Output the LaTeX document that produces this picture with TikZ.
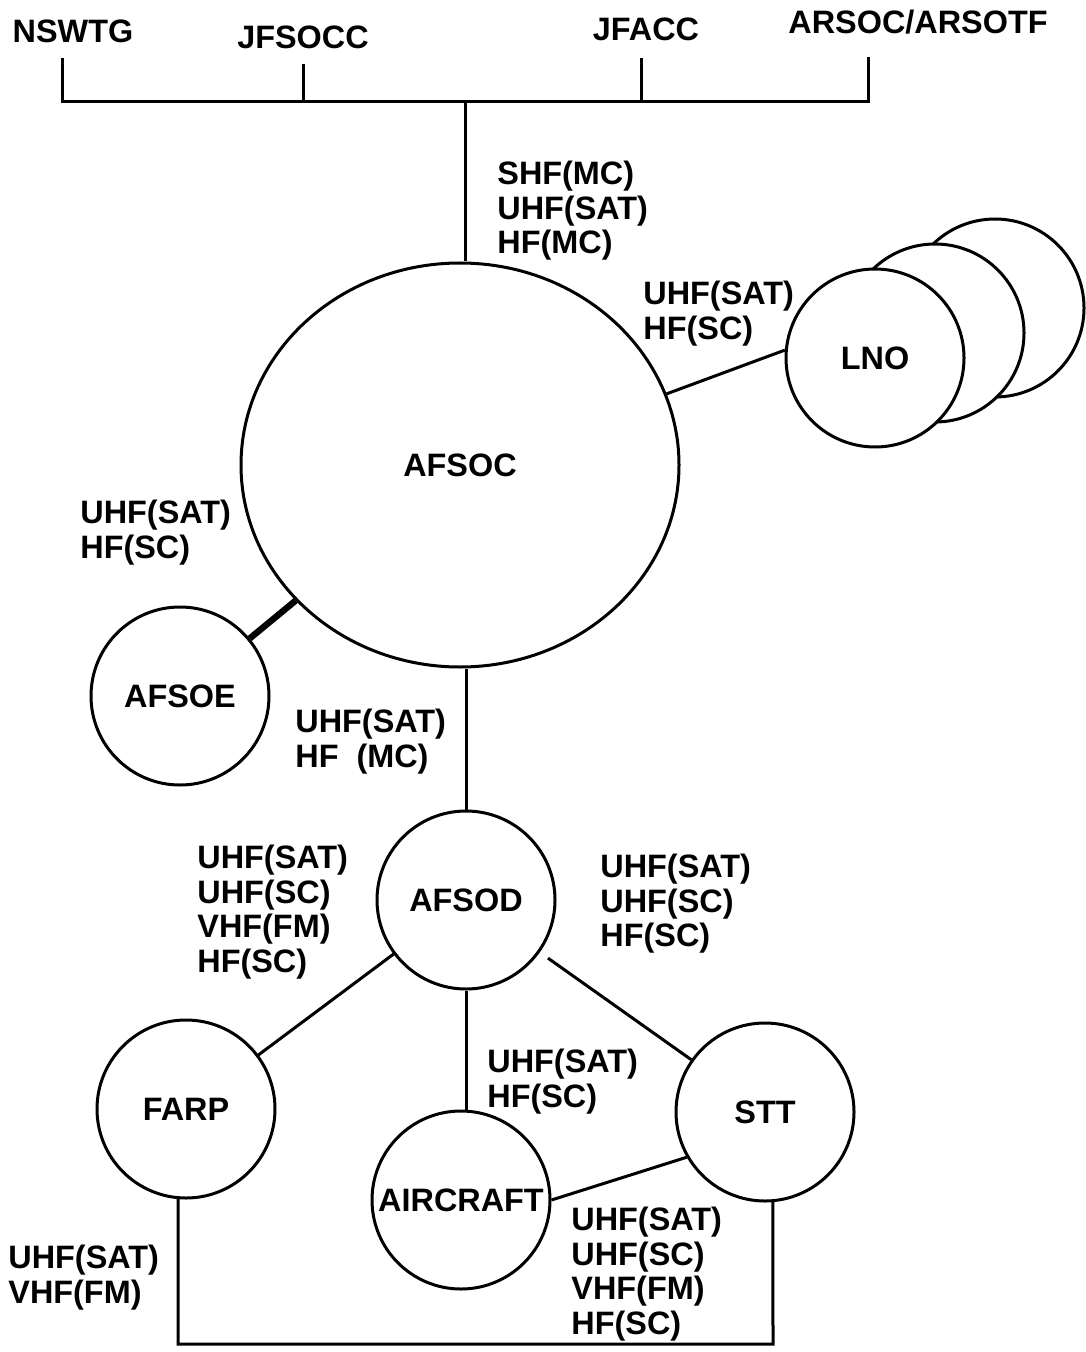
\documentclass[tikz,border=0pt]{standalone}
\usepackage{fontspec}
\setmainfont{Liberation Sans}
\usetikzlibrary{shapes.geometric}

\begin{document}
\begin{tikzpicture}[
        x=0.5pt, y=-0.5pt,
        font=\fontsize{16.2}{17.2}\selectfont\bfseries,
        unit/.style={draw, circle, line width=1.5pt, minimum size=89pt, inner sep=0pt, fill=white},
        link/.style={draw, line width=1.5pt},
        heavy/.style={draw, line width=3.2pt},
        freq/.style={anchor=north west, inner sep=0pt, align=left},
        head/.style={anchor=base, inner sep=0pt}
    ]
    \useasboundingbox (0,0) rectangle (1085,1352);

    % Kommandoebene
    \node (nswtg) [head] at (73,43) {NSWTG};
    \node (jfsocc) [head] at (303,49) {JFSOCC};
    \node (jfacc) [head] at (646,41) {JFACC};
    \node (arsoc) [head] at (918,34) {ARSOC/ARSOTF};

    \coordinate (b1) at (62,102);
    \coordinate (b2) at (303,102);
    \coordinate (b3) at (641,102);
    \coordinate (b4) at (868,102);
    \coordinate (hub) at (465,102);

    % Einheiten
    \node (afsoc) [draw, ellipse, line width=1.5pt, minimum width=219pt, minimum height=202pt, inner sep=0pt] at (460,465) {AFSOC};

    \node (lno3) [unit] at (995,308) {};
    \node (lno2) [unit] at (935,333) {};
    \node (lno) [unit] at (875,358) {LNO};

    \node (afsoe) [unit] at (180,696) {AFSOE};
    \node (afsod) [unit] at (466,900) {AFSOD};
    \node (farp) [unit] at (186,1109) {FARP};
    \node (aircraft) [unit] at (461,1200) {AIRCRAFT};
    \node (stt) [unit] at (765,1112) {STT};

    \coordinate (sb) at (773,1344);

    % Verbindungen
    \draw[link, shorten <=7pt, shorten >=11pt] (nswtg.south -| b1) -- (b1) -- (b4) -- (arsoc.south -| b4);
    \draw[link, shorten >=7pt] (b2) -- (jfsocc.south -| b2);
    \draw[link, shorten >=8pt] (b3) -- (jfacc.south -| b3);
    \draw[link] (hub) -- (afsoc.north -| hub);
    \draw[link] (afsoc.19) -- (lno.175);
    \draw[heavy] (afsoe) -- (afsoc);
    \draw[link] (afsoc.south -| afsod) -- (afsod);
    \draw[link] (afsod) -- (farp);
    \draw[link, shorten <=5pt] (afsod) -- (stt);
    \draw[link] (afsod) -- (afsod |- aircraft.north);
    \draw[link] (aircraft.east) -- (stt.210);
    \draw[link] (farp.265) |- (sb) -- (stt.275);

    % Frequenzen
    \node (cmdlink) [freq] at (497,161) {SHF(MC)\\UHF(SAT)\\HF(MC)};
    \node (lnolink) [freq] at (643,281) {UHF(SAT)\\HF(SC)};
    \node (afsoelink) [freq] at (80,500) {UHF(SAT)\\HF(SC)};
    \node (afsodlink) [freq] at (295,709) {UHF(SAT)\\HF\ \ (MC)};
    \node (farplink) [freq] at (197,845) {UHF(SAT)\\UHF(SC)\\VHF(FM)\\HF(SC)};
    \node (sttlink) [freq] at (600,854) {UHF(SAT)\\UHF(SC)\\HF(SC)};
    \node (aclink) [freq] at (487,1049) {UHF(SAT)\\HF(SC)};
    \node (acsttlink) [freq] at (571,1207) {UHF(SAT)\\UHF(SC)\\VHF(FM)\\HF(SC)};
    \node (buslink) [freq] at (8,1245) {UHF(SAT)\\VHF(FM)};

\end{tikzpicture}
\end{document}
